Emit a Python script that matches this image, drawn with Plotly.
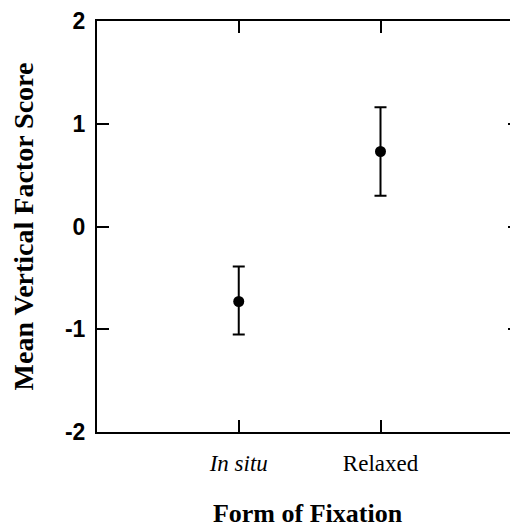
import plotly.graph_objects as go

categories = ["<i>In situ</i>", "Relaxed"]
cat_pos = [1, 2]
means = [-0.73, 0.73]
err_plus = [0.34, 0.43]
err_minus = [0.32, 0.43]
y_ticks = [-2, -1, 0, 1, 2]
y_tick_text = ["<b>-2</b>", "<b>-1</b>", "<b>0</b>", "<b>1</b>", "<b>2</b>"]

fig = go.Figure()
fig.add_trace(go.Scatter(
    x=cat_pos, y=means, mode="markers",
    marker=dict(color="black", size=11),
    error_y=dict(type="data", symmetric=False, array=err_plus, arrayminus=err_minus,
                 color="black", thickness=2, width=6),
    showlegend=False,
))
fig.add_trace(go.Scatter(x=[None], y=[None], yaxis="y2", showlegend=False))

# page has an 8px body margin, so the figure is shifted by 8px
fig.update_layout(
    width=510, height=520,
    margin=dict(l=89, r=0, t=10, b=96),
    plot_bgcolor="white", paper_bgcolor="white",
    xaxis=dict(range=[0, 2.97], tickvals=cat_pos, ticktext=categories,
               showline=True, linecolor="black", linewidth=2, mirror="ticks",
               ticks="inside", ticklen=12, tickwidth=2, tickcolor="black",
               showgrid=False, zeroline=False,
               tickfont=dict(family="Liberation Serif", size=23, color="black"),
               ticklabelstandoff=9,
               title=dict(text="<b>Form of Fixation</b>", standoff=34,
                          font=dict(family="Liberation Serif", size=26, color="black"))),
    yaxis=dict(range=[-2, 2], tickvals=y_ticks, ticktext=y_tick_text,
               showline=True, linecolor="black", linewidth=2,
               ticks="inside", ticklen=12, tickwidth=2, tickcolor="black",
               showgrid=False, zeroline=False, ticklabeloverflow="allow",
               tickfont=dict(family="Liberation Sans", size=23, color="black"),
               ticklabelstandoff=5,
               title=dict(text="<b>Mean Vertical Factor Score</b>", standoff=28,
                          font=dict(family="Liberation Serif", size=28, color="black"))),
    yaxis2=dict(overlaying="y", side="right", matches="y", range=[-2, 2], tickvals=y_ticks,
                showline=False, ticks="inside", ticklen=10, tickwidth=2, tickcolor="black",
                showticklabels=False, showgrid=False, zeroline=False),
)
fig.write_html("out.html")
